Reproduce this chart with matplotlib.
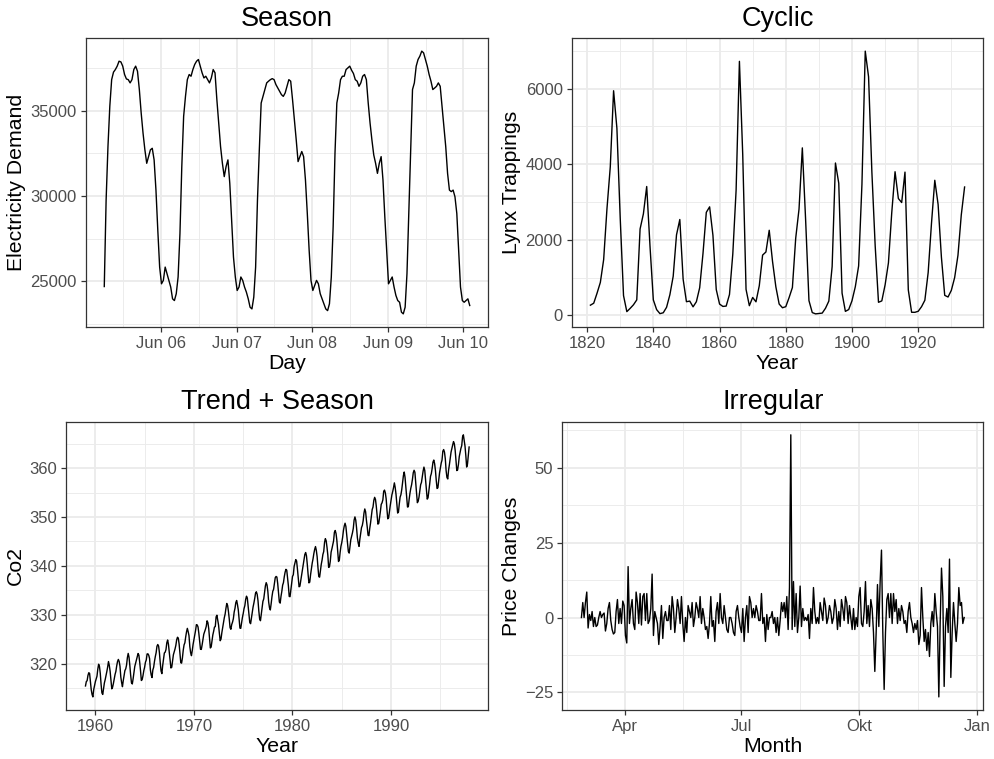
import numpy as np
import pandas as pd
import matplotlib
matplotlib.use("Agg")
import matplotlib.pyplot as plt
import matplotlib.dates as mdates
from matplotlib.ticker import FixedLocator, MultipleLocator

plt.rcParams['font.family'] = 'Liberation Sans'

# half-hourly electricity demand
elec_demand = [
    24700, 29770, 32900, 35260, 36820, 37260, 37410, 37610, 37900, 37860, 37610, 37120, 36860, 36820,
    36630, 36820, 37410, 37610, 37310, 36240, 34860, 33690, 32710, 31920, 32310, 32710, 32800, 32120,
    30350, 28000, 25840, 24860, 25060, 25840, 25450, 25060, 24670, 23980, 23880, 24280, 25260, 27800,
    31730, 34670, 35840, 36820, 37120, 37020, 37410, 37710, 37900, 38000, 37610, 37220, 36920, 37020,
    36820, 36630, 36920, 37410, 37220, 35650, 34280, 32900, 31920, 31140, 31730, 32120, 30750, 28590,
    26430, 25260, 24470, 24670, 25260, 25060, 24670, 24370, 23980, 23490, 23390, 24080, 25840, 29770,
    32710, 35450, 35840, 36240, 36630, 36730, 36820, 36880, 36820, 36530, 36330, 36140, 35940, 35840,
    36040, 36430, 36820, 36730, 35650, 34470, 33290, 32020, 32310, 32610, 32310, 30940, 28980, 26820,
    25060, 24470, 24770, 25060, 24860, 24280, 23980, 23690, 23390, 23290, 23690, 25260, 28200, 32510,
    35450, 36040, 36820, 37020, 37020, 37410, 37510, 37610, 37370, 37180, 36820, 36730, 36430, 36630,
    37020, 37120, 36820, 35450, 34280, 33290, 32410, 31920, 31330, 31920, 32310, 30940, 28780, 26820,
    24860, 25060, 25260, 24670, 24180, 23880, 23780, 23200, 23100, 23490, 25450, 28980, 32710, 36240,
    36630, 37610, 38000, 38200, 38490, 38390, 38000, 37610, 37120, 36730, 36240, 36330, 36430, 36630,
    36430, 35260, 34080, 32900, 31330, 30350, 30260, 30350, 29960, 28980, 26820, 24670, 23880, 23780,
    23880, 23980, 23590,
]
elec_start = "2000-06-05 06:00"
elec_end = "2000-06-10 02:00"
elec_ticks = ["2000-06-06", "2000-06-07", "2000-06-08", "2000-06-09", "2000-06-10"]

# yearly lynx trappings 1821-1934
lynx_start = 1821
lynx = [
    269, 321, 585, 871, 1475, 2821, 3928, 5943, 4950, 2577, 523, 98, 184, 279, 409, 2285, 2685, 3409,
    1824, 409, 151, 45, 68, 213, 546, 1033, 2129, 2536, 957, 361, 377, 225, 360, 731, 1638, 2725, 2871,
    2119, 684, 299, 236, 245, 552, 1623, 3311, 6721, 4254, 687, 255, 473, 358, 784, 1594, 1676, 2251,
    1426, 756, 299, 201, 229, 469, 736, 2042, 2811, 4431, 2511, 389, 73, 39, 49, 59, 188, 377, 1292,
    4031, 3495, 587, 105, 153, 387, 758, 1307, 3465, 6991, 6313, 3794, 1836, 345, 382, 808, 1388, 2713,
    3800, 3091, 2985, 3790, 674, 81, 80, 108, 229, 399, 1132, 2432, 3574, 2935, 1537, 529, 485, 662,
    1000, 1590, 2657, 3396,
]

# monthly co2 1959-1997
co2_start = 1959
co2 = [
    315.42, 316.31, 316.50, 317.56, 318.13, 318.00, 316.39, 314.65, 313.68, 313.18, 314.66, 315.43,
    316.27, 316.81, 317.42, 318.87, 319.87, 319.43, 318.01, 315.74, 314.00, 313.68, 314.84, 316.03,
    316.73, 317.54, 318.38, 319.31, 320.42, 319.61, 318.42, 316.63, 314.83, 315.16, 315.94, 316.85,
    317.78, 318.40, 319.53, 320.42, 320.85, 320.45, 319.45, 317.25, 316.11, 315.27, 316.53, 317.53,
    318.58, 318.92, 319.70, 321.22, 322.08, 321.31, 319.58, 317.61, 316.05, 315.83, 316.91, 318.20,
    319.41, 320.07, 320.74, 321.40, 322.06, 321.73, 320.27, 318.54, 316.54, 316.71, 317.53, 318.55,
    319.27, 320.28, 320.73, 321.97, 322.00, 321.71, 321.05, 318.71, 317.66, 317.14, 318.70, 319.25,
    320.46, 321.43, 322.23, 323.54, 323.91, 323.59, 322.24, 320.20, 318.48, 317.94, 319.63, 320.87,
    322.17, 322.34, 322.88, 324.25, 324.83, 323.93, 322.38, 320.76, 319.10, 319.24, 320.56, 321.80,
    322.40, 322.99, 323.73, 324.86, 325.40, 325.20, 323.98, 321.95, 320.18, 320.09, 321.16, 322.74,
    323.83, 324.26, 325.47, 326.50, 327.21, 326.54, 325.72, 323.50, 322.22, 321.62, 322.69, 323.95,
    324.89, 325.82, 326.77, 327.97, 327.91, 327.50, 326.18, 324.53, 322.93, 322.90, 323.85, 324.96,
    326.01, 326.51, 327.01, 327.62, 328.76, 328.40, 327.20, 325.27, 323.20, 323.40, 324.63, 325.85,
    326.60, 327.47, 327.58, 329.56, 329.90, 328.92, 327.88, 326.16, 324.68, 325.04, 326.34, 327.39,
    328.37, 329.40, 330.14, 331.33, 332.31, 331.90, 330.70, 329.15, 327.35, 327.02, 327.99, 328.48,
    329.18, 330.55, 331.32, 332.48, 332.92, 332.08, 331.01, 329.23, 327.27, 327.21, 328.29, 329.41,
    330.23, 331.25, 331.87, 333.14, 333.80, 333.43, 331.73, 329.90, 328.40, 328.17, 329.32, 330.59,
    331.58, 332.39, 333.33, 334.41, 334.71, 334.17, 332.89, 330.77, 329.14, 328.78, 330.14, 331.52,
    332.75, 333.24, 334.53, 335.90, 336.57, 336.10, 334.76, 332.59, 331.42, 330.98, 332.24, 333.68,
    334.80, 335.22, 336.47, 337.59, 337.84, 337.72, 336.37, 334.51, 332.60, 332.38, 333.75, 334.78,
    336.05, 336.59, 337.79, 338.71, 339.30, 339.12, 337.56, 335.92, 333.75, 333.70, 335.12, 336.56,
    337.84, 338.19, 339.91, 340.60, 341.29, 341.00, 339.39, 337.43, 335.72, 335.84, 336.93, 338.04,
    339.06, 340.30, 341.21, 342.33, 342.74, 342.08, 340.32, 338.26, 336.52, 336.68, 338.19, 339.44,
    340.57, 341.44, 342.53, 343.39, 343.96, 343.18, 341.88, 339.65, 337.81, 337.69, 339.09, 340.32,
    341.20, 342.35, 342.93, 344.77, 345.58, 345.14, 343.81, 342.21, 339.69, 339.82, 340.98, 342.82,
    343.52, 344.33, 345.11, 346.88, 347.25, 346.62, 345.22, 343.11, 340.90, 341.18, 342.80, 344.04,
    344.79, 345.82, 347.25, 348.17, 348.74, 348.07, 346.38, 344.51, 342.92, 342.62, 344.06, 345.38,
    346.11, 346.78, 347.68, 349.37, 350.03, 349.37, 347.76, 345.73, 344.68, 343.99, 345.48, 346.72,
    347.84, 348.29, 349.23, 350.80, 351.66, 351.07, 349.33, 347.92, 346.27, 346.18, 347.64, 348.78,
    350.25, 351.54, 352.05, 353.41, 354.04, 353.62, 352.22, 350.27, 348.55, 348.72, 349.91, 351.18,
    352.60, 352.92, 353.53, 355.26, 355.52, 354.97, 353.75, 351.52, 349.64, 349.83, 351.14, 352.37,
    353.50, 354.55, 355.23, 356.04, 357.00, 356.07, 354.67, 352.76, 350.82, 351.04, 352.69, 354.07,
    354.59, 355.63, 357.03, 358.48, 359.22, 358.12, 356.06, 353.92, 352.05, 352.11, 353.64, 354.89,
    355.88, 356.63, 357.72, 359.07, 359.58, 359.17, 356.94, 354.92, 352.94, 353.23, 354.09, 355.33,
    356.63, 357.10, 358.32, 359.41, 360.23, 359.55, 357.53, 355.48, 353.67, 353.95, 355.30, 356.78,
    358.34, 358.89, 359.95, 361.25, 361.67, 360.94, 359.55, 357.49, 355.84, 356.00, 357.59, 359.05,
    359.98, 361.03, 361.66, 363.48, 363.82, 363.30, 361.94, 359.50, 358.11, 357.80, 359.61, 360.74,
    362.09, 363.29, 364.06, 364.76, 365.45, 365.01, 363.70, 361.54, 359.51, 359.65, 360.80, 362.38,
    363.23, 364.06, 364.61, 366.40, 366.84, 365.68, 364.52, 362.57, 360.24, 360.83, 362.49, 364.34,
]

# daily price changes
price_changes = [
    0, 5, 0, 5, 8.5, -3.5, 1, -1, 2, -3, 0, -3, -2.5, 0, 2, 0, 1, 1.5, -4.5, -2, 3, 5, -1, -4, -5.5,
    -5, 2, 6, -2, 3, -2, 5.5, 4, -6, -8.5, 17, -2, 3, 6, -2, -4, 8.5, 5, -2, 8, -2.5, 7, 8, -1, 8,
    -2, -1, 3, 14.5, -6, 2, 0, -2, -9, -3, 4, -7, 0, 2, -1, -1, 4, -4, 7, 3, -5, 0, 6, 3, -2, 7, -2,
    -8, 0, -5, 4, 2, 0, 5, -3, 0, 5, 3, 0, 7, -2, 3, 0, -4, -3, -7, -2, 7, -3, -1, -8, 2, 5, -2, 8,
    0, -2, 4, 0, -4, -5, 0, 0, -2, -5, -6, 2, 4, 0, -3, -5, 3, -8, 0, 4, -5, 7, 5, 0, 3, 0, 4, 2, -1,
    -1, 8, -2, 0, -8, 1, -4, 0, 0, 2, -2, 0, -5, 0, -6, -1, 5, 2, 5, 0, 7, -4, 10, 61, -4, 12, -3, 8,
    -5, 0, 10.5, -3, 3, -1, 0, -1, 1, -7, 3, -2, 10, 2, -2, 0, -2, 5, 2, -1, 6.5, 4, -2, 0, 4, 2, -2,
    0, 6, 3, -4, 2, -3, 6, 3, -1, 7, 5, -2, 4, 0, -4, 3, -4, 0, -3, 7, 10, -2, -3, 2, 12, -2, 4, -3,
    6, 3, -5, -18, -5, 11, -3, 12, 22.5, -5, -24, -5, 6, 8, 0, 8, -2, 8, 2, 6, -2, 3, -1, 4, 2, -2,
    -1, -5, 2, 5, 0, -2, -5, -2, -4, -1, -9, -6, 10, 0, -8, -4, -11, -5, -13, -2, 2, -3, 8, 2, -3,
    -26.5, -2, 16.5, 7, -23, -3, 3, -5, 19.5, -20, -5, 5, -2, -8, -2, 10, 4, 5, -2, 0,
]
price_start = "2018-02-26"
price_end = "2018-12-22"
month_ticks = ["2018-04-01", "2018-07-01", "2018-10-01", "2019-01-01"]
month_labels = ["Apr", "Jul", "Okt", "Jan"]

W, H = 995, 759
fig = plt.figure(figsize=(W / 100, H / 100), dpi=100)


def px_axes(x0, y0, x1, y1):
    return fig.add_axes([x0 / W, 1 - y1 / H, (x1 - x0) / W, (y1 - y0) / H])


def expand(lo, hi):
    d = (hi - lo) * 0.05
    return lo - d, hi + d


def minor_between(major):
    major = list(major)
    return [(a + b) / 2 for a, b in zip(major[:-1], major[1:])]


def style(ax, title, xlabel, ylabel):
    ax.set_axisbelow(True)
    ax.grid(which='major', color='#EBEBEB', lw=1.3)
    ax.grid(which='minor', color='#EBEBEB', lw=0.65)
    for s in ax.spines.values():
        s.set_color('#333333')
        s.set_linewidth(0.9)
    ax.tick_params(which='major', length=3.5, width=0.9, color='#333333',
                   labelcolor='#4D4D4D', labelsize=12, pad=3)
    ax.tick_params(which='minor', length=0)
    ax.set_title(title, fontsize=19.5, pad=9)
    ax.set_xlabel(xlabel, fontsize=15.3, labelpad=2.5)
    ax.set_ylabel(ylabel, fontsize=15.3, labelpad=3)


# Season
ax1 = px_axes(86, 38, 488, 327)
t = pd.date_range(elec_start, elec_end, periods=len(elec_demand))
ax1.plot(t, elec_demand, color='black', lw=1.0)
tn = mdates.date2num(t)
ax1.set_xlim(*expand(tn[0], tn[-1]))
ax1.set_ylim(*expand(min(elec_demand), max(elec_demand)))
maj = mdates.date2num(pd.to_datetime(elec_ticks))
ax1.xaxis.set_major_locator(FixedLocator(maj))
ax1.xaxis.set_minor_locator(FixedLocator(minor_between(np.r_[maj[0] - 1, maj, maj[-1] + 1])))
ax1.xaxis.set_major_formatter(mdates.DateFormatter('%b %d'))
ax1.yaxis.set_major_locator(MultipleLocator(5000))
ax1.yaxis.set_minor_locator(MultipleLocator(2500))
style(ax1, "Season", "Day", "Electricity Demand")

# Cyclic
ax2 = px_axes(571.7, 38, 983.3, 327)
yrs = np.arange(lynx_start, lynx_start + len(lynx))
ax2.plot(yrs, lynx, color='black', lw=1.0)
ax2.set_xlim(*expand(yrs[0], yrs[-1]))
ax2.set_ylim(*expand(min(lynx), max(lynx)))
ax2.xaxis.set_major_locator(MultipleLocator(20))
ax2.xaxis.set_minor_locator(MultipleLocator(10))
ax2.yaxis.set_major_locator(MultipleLocator(2000))
ax2.yaxis.set_minor_locator(MultipleLocator(1000))
style(ax2, "Cyclic", "Year", "Lynx Trappings")

# Trend + Season
ax3 = px_axes(66.3, 421.7, 488.3, 710)
tt = co2_start + np.arange(len(co2)) / 12
ax3.plot(tt, co2, color='black', lw=1.0)
ax3.set_xlim(*expand(tt[0], tt[-1]))
ax3.set_ylim(*expand(min(co2), max(co2)))
ax3.xaxis.set_major_locator(MultipleLocator(10))
ax3.xaxis.set_minor_locator(MultipleLocator(5))
ax3.yaxis.set_major_locator(MultipleLocator(10))
ax3.yaxis.set_minor_locator(MultipleLocator(5))
style(ax3, "Trend + Season", "Year", "Co2")

# Irregular
ax4 = px_axes(562.3, 421.7, 983.3, 710)
d = pd.date_range(price_start, price_end, periods=len(price_changes))
ax4.plot(d, price_changes, color='black', lw=1.0)
dn = mdates.date2num(d)
ax4.set_xlim(*expand(dn[0], dn[-1]))
ax4.set_ylim(*expand(min(price_changes), max(price_changes)))
mt = mdates.date2num(pd.to_datetime(month_ticks))
prev_major = mdates.date2num(pd.Timestamp("2018-01-01"))
ax4.xaxis.set_major_locator(FixedLocator(mt))
ax4.xaxis.set_minor_locator(FixedLocator(minor_between(np.r_[prev_major, mt])))
ax4.set_xticklabels(month_labels)
ax4.yaxis.set_major_locator(MultipleLocator(25))
ax4.yaxis.set_minor_locator(MultipleLocator(12.5))
style(ax4, "Irregular", "Month", "Price Changes")

fig.savefig("out.png", dpi=100, facecolor='white')
